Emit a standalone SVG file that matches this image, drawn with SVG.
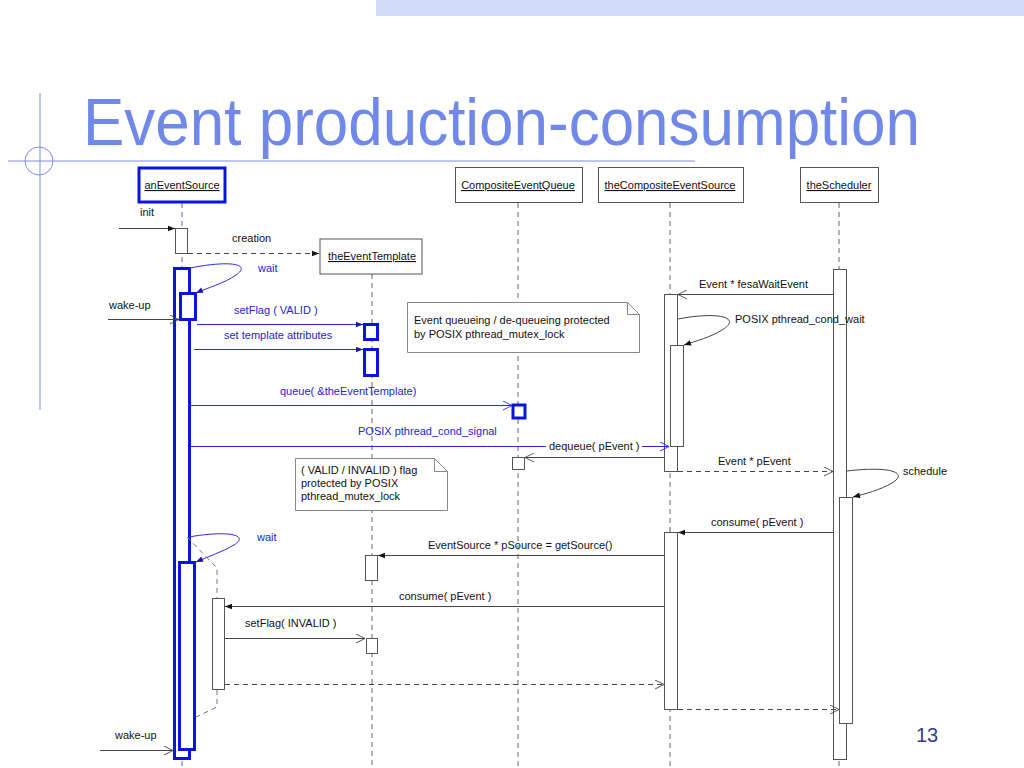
<svg xmlns="http://www.w3.org/2000/svg" width="1024" height="768" viewBox="0 0 1024 768">
<style>
.t{font-family:"Liberation Sans",Arial,sans-serif;font-size:11px;fill:#111}
.bt{fill:#2424d0}
.u{text-decoration:underline}
.life{stroke:#666;stroke-width:1;stroke-dasharray:5,4;fill:none}
.blife{stroke:#5060d0;stroke-width:1;stroke-dasharray:5,4;fill:none}
.box{fill:#fff;stroke:#555;stroke-width:1}
.bbox{fill:#fff;stroke:#0a14e0;stroke-width:3}
.act{fill:#fff;stroke:#555;stroke-width:1}
.bact{fill:#fff;stroke:#0a14e0;stroke-width:3}
.msg{stroke:#444;stroke-width:1;fill:none}
.dmsg{stroke:#444;stroke-width:1;fill:none;stroke-dasharray:5,4}
.bmsg{stroke:#2a2ae0;stroke-width:1;fill:none}
.thr{stroke:#777;stroke-width:1;fill:none;stroke-dasharray:5,4}
.note{fill:#fff;stroke:#888;stroke-width:1}
.deco{stroke:#7a8ee0;stroke-width:1;fill:none}
</style>
<defs>
<marker id="fa" viewBox="0 0 10 10" refX="10" refY="5" markerWidth="8" markerHeight="7" markerUnits="userSpaceOnUse" orient="auto"><path d="M0,1 L10,5 L0,9 z" fill="#111"/></marker>
<marker id="oa" viewBox="0 0 10 10" refX="10" refY="5" markerWidth="9" markerHeight="10" markerUnits="userSpaceOnUse" orient="auto"><path d="M0,0 L10,5 L0,10" fill="none" stroke="#444" stroke-width="1"/></marker>
<marker id="fab" viewBox="0 0 10 10" refX="10" refY="5" markerWidth="8" markerHeight="7" markerUnits="userSpaceOnUse" orient="auto"><path d="M0,1 L10,5 L0,9 z" fill="#1a1aa0"/></marker>
<marker id="oab" viewBox="0 0 10 10" refX="10" refY="5" markerWidth="9" markerHeight="10" markerUnits="userSpaceOnUse" orient="auto"><path d="M0,0 L10,5 L0,10" fill="none" stroke="#2a2ae0" stroke-width="1"/></marker>
</defs>
<rect width="1024" height="768" fill="#fff"/>
<g id="decor">
<rect x="376" y="0" width="648" height="16" fill="#cfdbf9"/>
<line class="deco" x1="40" y1="93" x2="40" y2="410"/>
<line class="deco" x1="8" y1="161" x2="695" y2="161"/>
<circle class="deco" cx="39" cy="161" r="14"/>
<text x="83" y="145" font-family="Liberation Sans,Arial,sans-serif" font-size="67" fill="#7088e8" textLength="837" lengthAdjust="spacingAndGlyphs">Event production-consumption</text>
<text x="916" y="742" font-family="Liberation Sans,Arial,sans-serif" font-size="20" fill="#3a3a8a">13</text>
</g>
<g id="lifelines">
<line class="blife" x1="182" y1="203" x2="182" y2="768"/>
<line class="life" x1="372" y1="274" x2="372" y2="768"/>
<line class="life" x1="518" y1="203" x2="518" y2="768"/>
<line class="life" x1="670" y1="203" x2="670" y2="768"/>
<line class="life" x1="839" y1="203" x2="839" y2="768"/>
</g>
<g id="anEventSource">
<rect class="bbox" x="139" y="168" width="86" height="34"/>
<text class="t u" x="182" y="189" text-anchor="middle">anEventSource</text>
</g>
<g id="theEventTemplate">
<rect class="box" x="320" y="239" width="102" height="35"/>
<text class="t u" x="372" y="260" text-anchor="middle">theEventTemplate</text>
</g>
<g id="CompositeEventQueue">
<rect class="box" x="455.5" y="167.5" width="127" height="35"/>
<text class="t u" x="518" y="189" text-anchor="middle">CompositeEventQueue</text>
</g>
<g id="theCompositeEventSource">
<rect class="box" x="598.5" y="167.5" width="145" height="35"/>
<text class="t u" x="670" y="189" text-anchor="middle">theCompositeEventSource</text>
</g>
<g id="theScheduler">
<rect class="box" x="800.5" y="167.5" width="78" height="35"/>
<text class="t u" x="839" y="189" text-anchor="middle">theScheduler</text>
</g>
<g id="note1">
<path class="note" d="M407.5,302.5 L627.5,302.5 L639.5,314.5 L639.5,352.5 L407.5,352.5 z M627.5,302.5 L627.5,314.5 L639.5,314.5"/>
<text class="t" x="414" y="324">Event queueing / de-queueing protected</text>
<text class="t" x="414" y="338">by POSIX pthread_mutex_lock</text>
</g>
<g id="note2">
<path class="note" d="M295.5,458.5 L434.5,458.5 L447.5,471.5 L447.5,510.5 L295.5,510.5 z M434.5,458.5 L434.5,471.5 L447.5,471.5"/>
<text class="t" x="301" y="474">( VALID / INVALID ) flag</text>
<text class="t" x="301" y="487">protected by POSIX</text>
<text class="t" x="301" y="500">pthread_mutex_lock</text>
</g>
<g id="activations">
<rect class="act" x="175.5" y="228.5" width="12" height="25"/>
<rect class="bact" x="174.5" y="268.5" width="15" height="490"/>
<rect class="bact" x="180.5" y="293.5" width="15" height="26"/>
<rect class="bact" x="179.5" y="562.5" width="15" height="187"/>
<rect class="act" x="212.5" y="598.5" width="12" height="91"/>
<rect class="bact" x="364.5" y="324.5" width="13" height="15"/>
<rect class="bact" x="364.5" y="349.5" width="13" height="26"/>
<rect class="act" x="365.5" y="555.5" width="12" height="25"/>
<rect class="act" x="366.5" y="638.5" width="11" height="15"/>
<rect class="bact" x="513" y="405" width="12" height="13"/>
<rect class="act" x="512.5" y="457.5" width="12" height="12"/>
<rect class="act" x="664.5" y="294.5" width="13" height="177"/>
<rect class="act" x="670.5" y="345.5" width="13" height="101"/>
<rect class="act" x="664.5" y="532.5" width="13" height="177"/>
<rect class="act" x="833.5" y="269.5" width="13" height="490"/>
<rect class="act" x="839.5" y="497.5" width="13" height="226"/>
</g>
<g id="connectors">
<path class="msg" d="M119,228.5 L175,228.5" marker-end="url(#fa)"/>
<path class="dmsg" d="M188,253.5 L319,253.5" marker-end="url(#fa)"/>
<path class="bmsg" d="M190,268 C230,260 252,264 236,275 C225,283 207,288 196,293" marker-end="url(#fab)"/>
<path class="msg" d="M108,319.5 L179,319.5" marker-end="url(#oa)"/>
<path class="bmsg" d="M197,324.5 L363,324.5" marker-end="url(#fab)"/>
<path class="bmsg" d="M194,349.5 L363,349.5" marker-end="url(#fab)"/>
<path class="bmsg" d="M190,405.5 L512,405.5" marker-end="url(#oab)"/>
<path class="bmsg" d="M190,446.5 L669,446.5" marker-end="url(#oab)"/>
<path class="msg" d="M833,294.5 L678,294.5" marker-end="url(#oa)"/>
<path class="msg" d="M678,319 C720,311 742,318 722,330 C711,337 696,341 684,345" marker-end="url(#fa)"/>
<path class="msg" d="M664,457.5 L525,457.5" marker-end="url(#oa)"/>
<path class="dmsg" d="M678,471.5 L833,471.5" marker-end="url(#oa)"/>
<path class="msg" d="M847,471 C888,466 910,472 892,483 C880,490 865,494 853,497" marker-end="url(#fa)"/>
<path class="msg" d="M833,532.5 L678,532.5" marker-end="url(#fa)"/>
<path class="msg" d="M664,555.5 L378,555.5" marker-end="url(#fa)"/>
<path class="msg" d="M664,606.5 L225,606.5" marker-end="url(#fa)"/>
<path class="msg" d="M225,638.5 L365,638.5" marker-end="url(#oa)"/>
<path class="dmsg" d="M225,684.5 L664,684.5" marker-end="url(#oa)"/>
<path class="dmsg" d="M678,709.5 L839,709.5" marker-end="url(#oa)"/>
<path class="bmsg" d="M189,537 C228,530 250,535 234,545 C222,552 207,557 196,562" marker-end="url(#fab)"/>
<path class="msg" d="M100,750.5 L173,750.5" marker-end="url(#oa)"/>
<path class="thr" d="M187,537 L217,568 L217,598"/>
<path class="thr" d="M217,690 L217,707 L196,717"/>
</g>
<g id="labels">
<text class="t" x="140" y="216">init</text>
<text class="t" x="232" y="242">creation</text>
<text class="t bt" x="258" y="272">wait</text>
<text class="t" x="109" y="309">wake-up</text>
<text class="t bt" x="234" y="314">setFlag ( VALID )</text>
<text class="t bt" x="224" y="339">set template attributes</text>
<text class="t bt" x="280" y="395">queue( &amp;theEventTemplate)</text>
<text class="t bt" x="358" y="435">POSIX pthread_cond_signal</text>
<rect x="546" y="439" width="96" height="14" fill="#fff"/>
<text class="t" x="549" y="450">dequeue( pEvent )</text>
<text class="t" x="699" y="288">Event * fesaWaitEvent</text>
<text class="t" x="735" y="323">POSIX pthread_cond_wait</text>
<text class="t" x="718" y="465">Event * pEvent</text>
<text class="t" x="903" y="475">schedule</text>
<text class="t" x="711" y="526">consume( pEvent )</text>
<text class="t" x="428" y="549">EventSource * pSource = getSource()</text>
<text class="t" x="399" y="600">consume( pEvent )</text>
<text class="t" x="245" y="627">setFlag( INVALID )</text>
<text class="t bt" x="257" y="541">wait</text>
<text class="t" x="115" y="739">wake-up</text>
</g>
</svg>
